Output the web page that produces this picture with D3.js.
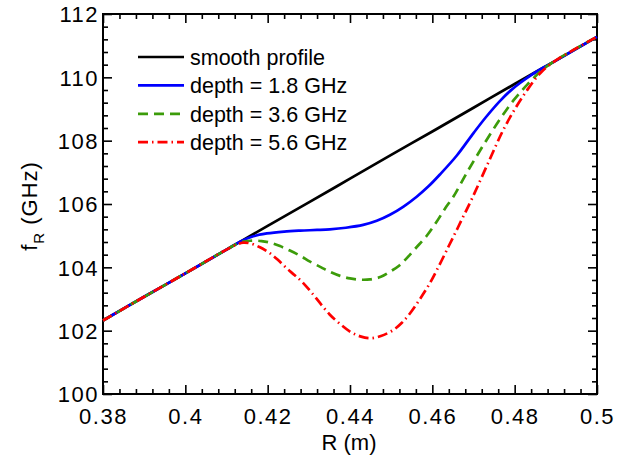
<!DOCTYPE html>
<html>
<head>
<meta charset="utf-8">
<script src="https://cdn.jsdelivr.net/npm/d3@7"></script>
<style>
  html, body { margin: 0; padding: 0; background: #fff; }
  svg { display: block; font-family: "Liberation Sans", Arial, Helvetica, sans-serif; }
</style>
</head>
<body>
<svg id="chart" width="629" height="457"></svg>
<script>
// ---- data ----
const xTickValues = [0.38, 0.40, 0.42, 0.44, 0.46, 0.48, 0.50];
const xTickLabels = ["0.38", "0.4", "0.42", "0.44", "0.46", "0.48", "0.5"];
const yTickValues = [100, 102, 104, 106, 108, 110, 112];
const yTickLabels = ["100", "102", "104", "106", "108", "110", "112"];

const seriesNames = ["smooth profile", "depth = 1.8 GHz", "depth = 3.6 GHz", "depth = 5.6 GHz"];

const rSmooth = [0.38, 0.39, 0.40, 0.41, 0.42, 0.43, 0.44, 0.45, 0.46, 0.47, 0.48, 0.49, 0.50];
const fSmooth = [102.32, 103.07, 103.81, 104.56, 105.31, 106.05, 106.80, 107.55, 108.29, 109.04, 109.79, 110.53, 111.28];

const rDepth18 = [0.38, 0.39, 0.40, 0.41, 0.4133, 0.4165, 0.4198, 0.4240, 0.4279, 0.4320, 0.4351, 0.4390, 0.4432, 0.4465, 0.4497, 0.4530, 0.4562, 0.4590, 0.4619, 0.4660, 0.4700, 0.4730, 0.4764, 0.4790, 0.4813, 0.4840, 0.4870, 0.49, 0.50];
const fDepth18 = [102.32, 103.07, 103.81, 104.56, 104.81, 104.98, 105.07, 105.13, 105.16, 105.18, 105.20, 105.25, 105.34, 105.47, 105.66, 105.92, 106.23, 106.55, 106.94, 107.54, 108.24, 108.74, 109.25, 109.58, 109.82, 110.07, 110.31, 110.53, 111.28];

const rDepth36 = [0.38, 0.39, 0.40, 0.41, 0.4130, 0.4157, 0.4185, 0.4206, 0.4230, 0.4254, 0.4280, 0.4303, 0.4330, 0.4351, 0.4376, 0.4400, 0.4425, 0.4449, 0.4475, 0.4497, 0.4520, 0.4538, 0.4560, 0.4586, 0.4610, 0.4631, 0.4651, 0.4683, 0.4724, 0.4764, 0.4797, 0.4830, 0.4860, 0.4890, 0.50];
const fDepth36 = [102.32, 103.07, 103.81, 104.56, 104.77, 104.84, 104.83, 104.78, 104.67, 104.53, 104.36, 104.18, 104.00, 103.86, 103.73, 103.65, 103.61, 103.62, 103.70, 103.86, 104.06, 104.29, 104.61, 104.99, 105.43, 105.86, 106.23, 106.97, 107.86, 108.67, 109.27, 109.76, 110.15, 110.46, 111.28];

const rDepth56 = [0.38, 0.39, 0.40, 0.41, 0.4125, 0.4140, 0.4157, 0.4180, 0.4206, 0.4226, 0.4246, 0.4265, 0.4283, 0.4310, 0.4331, 0.4350, 0.4362, 0.4400, 0.4425, 0.4449, 0.4475, 0.4505, 0.4526, 0.4546, 0.4570, 0.4594, 0.4617, 0.4639, 0.4657, 0.4675, 0.4696, 0.4736, 0.4772, 0.4801, 0.4830, 0.4862, 0.4895, 0.50];
const fDepth56 = [102.32, 103.07, 103.81, 104.56, 104.72, 104.78, 104.76, 104.64, 104.44, 104.22, 103.97, 103.76, 103.55, 103.15, 102.81, 102.52, 102.37, 101.97, 101.82, 101.76, 101.83, 102.02, 102.25, 102.55, 103.00, 103.50, 104.07, 104.65, 105.12, 105.60, 106.16, 107.31, 108.33, 109.01, 109.59, 110.13, 110.49, 111.28];

// ---- layout ----
const svg = d3.select("#chart");
const L = 103, Rt = 597, T = 14, B = 394;
const x = d3.scaleLinear().domain([0.38, 0.50]).range([L, Rt]);
const y = d3.scaleLinear().domain([100, 112]).range([B, T]);

const xMinor = d3.range(0, 31).map(i => 0.38 + i * 0.004).filter(v => Math.abs(((v - 0.38) / 0.02) - Math.round((v - 0.38) / 0.02)) > 1e-6);
const yMinor = d3.range(0, 31).map(i => 100 + i * 0.4).filter(v => Math.abs((v - 100) / 2 - Math.round((v - 100) / 2)) > 1e-6);

const fontMain = "22px";

function styleAxis(g) {
  g.select(".domain").remove();
  g.selectAll(".tick line").attr("stroke", "#000").attr("stroke-width", 1.6);
}

// bottom axis
const gB = svg.append("g").attr("transform", `translate(0,${B})`)
  .call(d3.axisBottom(x).tickValues(xTickValues).tickSize(-9).tickPadding(14)
    .tickFormat((d, i) => xTickLabels[i]));
styleAxis(gB);
gB.selectAll(".tick text").attr("font-size", fontMain).attr("fill", "#000")
  .attr("font-family", "Liberation Sans, Arial, sans-serif").style("letter-spacing", "1.5px");
svg.append("g").attr("transform", `translate(0,${B})`)
  .call(d3.axisBottom(x).tickValues(xMinor).tickSize(-5).tickFormat(""))
  .call(styleAxis);

// top axis
svg.append("g").attr("transform", `translate(0,${T})`)
  .call(d3.axisTop(x).tickValues(xTickValues).tickSize(-9).tickFormat(""))
  .call(styleAxis);
svg.append("g").attr("transform", `translate(0,${T})`)
  .call(d3.axisTop(x).tickValues(xMinor).tickSize(-5).tickFormat(""))
  .call(styleAxis);

// left axis
const gL = svg.append("g").attr("transform", `translate(${L},0)`)
  .call(d3.axisLeft(y).tickValues(yTickValues).tickSize(-9).tickPadding(4)
    .tickFormat((d, i) => yTickLabels[i]));
styleAxis(gL);
gL.selectAll(".tick text").attr("font-size", fontMain).attr("fill", "#000")
  .attr("font-family", "Liberation Sans, Arial, sans-serif").style("letter-spacing", "1.5px")
  .attr("dy", "0.36em");
svg.append("g").attr("transform", `translate(${L},0)`)
  .call(d3.axisLeft(y).tickValues(yMinor).tickSize(-5).tickFormat(""))
  .call(styleAxis);

// right axis
svg.append("g").attr("transform", `translate(${Rt},0)`)
  .call(d3.axisRight(y).tickValues(yTickValues).tickSize(-9).tickFormat(""))
  .call(styleAxis);
svg.append("g").attr("transform", `translate(${Rt},0)`)
  .call(d3.axisRight(y).tickValues(yMinor).tickSize(-5).tickFormat(""))
  .call(styleAxis);

// frame
svg.append("rect").attr("x", L).attr("y", T).attr("width", Rt - L).attr("height", B - T)
  .attr("fill", "none").attr("stroke", "#000").attr("stroke-width", 2);

// ---- lines ----
const series = [
  { name: seriesNames[0], r: rSmooth, f: fSmooth, color: "#000000", dash: null },
  { name: seriesNames[1], r: rDepth18, f: fDepth18, color: "#0000ff", dash: null },
  { name: seriesNames[2], r: rDepth36, f: fDepth36, color: "#3c9c0a", dash: "10,6" },
  { name: seriesNames[3], r: rDepth56, f: fDepth56, color: "#ff0000", dash: "10,4,1.5,4" }
];

const line = d3.line().x(d => x(d[0])).y(d => y(d[1])).curve(d3.curveCatmullRom.alpha(0.5));

const plot = svg.append("g");
series.forEach(s => {
  const pts = s.r.map((r, i) => [r, s.f[i]]);
  plot.append("path").datum(pts)
    .attr("d", line)
    .attr("fill", "none")
    .attr("stroke", s.color)
    .attr("stroke-width", 2.7)
    .attr("stroke-dasharray", s.dash)
    .attr("stroke-linejoin", "round");
});

// ---- legend ----
const legend = svg.append("g");
const legX0 = 138, legX1 = 184, legY0 = 57, legDy = 28.4;
series.forEach((s, i) => {
  const yy = legY0 + i * legDy;
  legend.append("line").attr("x1", legX0).attr("x2", legX1).attr("y1", yy).attr("y2", yy)
    .attr("stroke", s.color).attr("stroke-width", 2.7).attr("stroke-dasharray", s.dash);
  legend.append("text").attr("x", 190).attr("y", yy + 8)
    .attr("font-size", "21.5px").attr("fill", "#000").text(s.name);
});

// ---- axis titles ----
svg.append("text").attr("x", 349).attr("y", 450).attr("text-anchor", "middle")
  .attr("font-size", fontMain).attr("fill", "#000").text("R (m)");

const yt = svg.append("text").attr("transform", "translate(37,206) rotate(-90)")
  .attr("text-anchor", "middle").attr("font-size", fontMain).attr("fill", "#000")
  .style("letter-spacing", "1px");
yt.append("tspan").text("f");
yt.append("tspan").attr("font-size", "15px").attr("dy", 7).text("R");
yt.append("tspan").attr("dy", -7).text(" (GHz)");
</script>
</body>
</html>
